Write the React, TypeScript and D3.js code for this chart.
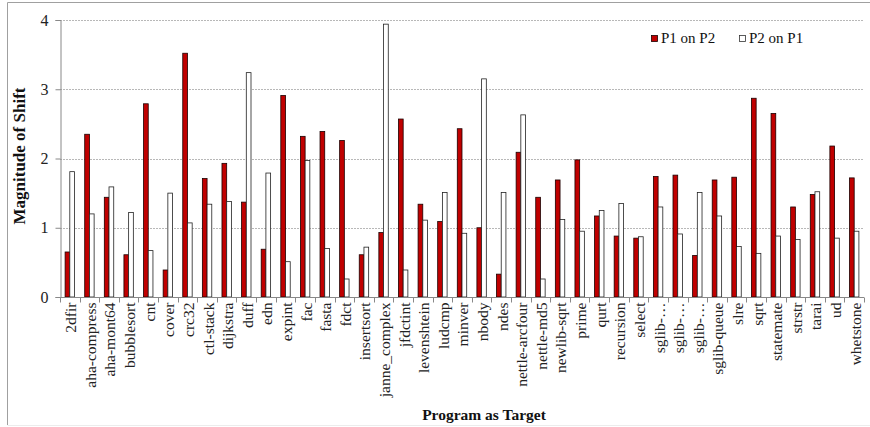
import React, { useRef, useEffect } from 'react';
import * as d3 from 'd3';

const programs = [
  '2dfir', 'aha-compress', 'aha-mont64', 'bubblesort', 'cnt', 'cover', 'crc32', 'ctl-stack',
  'dijkstra', 'duff', 'edn', 'expint', 'fac', 'fasta', 'fdct', 'insertsort', 'janne_complex',
  'jfdctint', 'levenshtein', 'ludcmp', 'minver', 'nbody', 'ndes', 'nettle-arcfour', 'nettle-md5',
  'newlib-sqrt', 'prime', 'qurt', 'recursion', 'select', 'sglib-…', 'sglib-…', 'sglib-…',
  'sglib-queue', 'slre', 'sqrt', 'statemate', 'strstr', 'tarai', 'ud', 'whetstone',
];

const p1OnP2 = [
  0.65, 2.35, 1.44, 0.61, 2.79, 0.39, 3.52, 1.71, 1.93, 1.37, 0.69, 2.91, 2.32, 2.39, 2.26, 0.61,
  0.93, 2.57, 1.34, 1.09, 2.43, 1.0, 0.33, 2.09, 1.44, 1.69, 1.98, 1.17, 0.88, 0.85, 1.74, 1.76,
  0.6, 1.69, 1.73, 2.87, 2.65, 1.3, 1.48, 2.18, 1.72,
];

const p2OnP1 = [
  1.81, 1.2, 1.59, 1.22, 0.67, 1.5, 1.07, 1.34, 1.38, 3.24, 1.79, 0.51, 1.97, 0.7, 0.26, 0.72,
  3.94, 0.39, 1.11, 1.51, 0.92, 3.15, 1.51, 2.63, 0.26, 1.12, 0.95, 1.25, 1.35, 0.87, 1.3, 0.91,
  1.51, 1.17, 0.73, 0.63, 0.88, 0.83, 1.52, 0.85, 0.95,
];

const yTicks = [0, 1, 2, 3, 4];

const seriesNames = ['P1 on P2', 'P2 on P1'];

const FONT = '"Liberation Serif", "Times New Roman", Times, serif';

export default function App() {
  const chartRef = useRef<SVGSVGElement>(null);

  useEffect(() => {
    if (!chartRef.current) return;
    const svg = d3.select(chartRef.current);
    svg.selectAll('*').remove();

    const W = 870;
    const H = 427;
    const margin = { top: 20, right: 6, bottom: 130, left: 60 };

    // outer frame (only top/left visible, bottom faint)
    svg.append('line')
      .attr('x1', 7.5).attr('x2', W).attr('y1', 2.5).attr('y2', 2.5)
      .attr('stroke', '#a0a0a0');
    svg.append('line')
      .attr('x1', 7.5).attr('x2', 7.5).attr('y1', 2.5).attr('y2', H - 2)
      .attr('stroke', '#a0a0a0');
    svg.append('line')
      .attr('x1', 7.5).attr('x2', W).attr('y1', H - 1.5).attr('y2', H - 1.5)
      .attr('stroke', '#ececec');

    const x = d3.scaleBand<number>()
      .domain(programs.map((_, i) => i))
      .range([margin.left, W - margin.right])
      .paddingInner(0)
      .paddingOuter(0);

    const y = d3.scaleLinear()
      .domain([0, 4])
      .range([H - margin.bottom, margin.top]);

    const g = svg.append('g');

    // grid lines
    g.selectAll('.grid')
      .data(yTicks.filter(t => t > 0))
      .enter()
      .append('line')
      .attr('x1', margin.left)
      .attr('x2', W - margin.right)
      .attr('y1', d => Math.round(y(d)) + 0.5)
      .attr('y2', d => Math.round(y(d)) + 0.5)
      .attr('stroke', '#b8b8b8')
      .attr('stroke-dasharray', '2,1');

    // bars
    const bw = x.bandwidth() * 0.24;
    const pairOffset = (x.bandwidth() - 2 * bw) / 2;

    g.selectAll('.bar1')
      .data(p1OnP2)
      .enter()
      .append('rect')
      .attr('x', (_, i) => (x(i) || 0) + pairOffset)
      .attr('y', d => y(d))
      .attr('width', bw)
      .attr('height', d => y(0) - y(d))
      .attr('fill', '#c00000')
      .attr('stroke', '#1a0000')
      .attr('stroke-width', 0.8);

    g.selectAll('.bar2')
      .data(p2OnP1)
      .enter()
      .append('rect')
      .attr('x', (_, i) => (x(i) || 0) + pairOffset + bw)
      .attr('y', d => y(d))
      .attr('width', bw)
      .attr('height', d => y(0) - y(d))
      .attr('fill', 'white')
      .attr('stroke', '#222')
      .attr('stroke-width', 0.8);

    // y axis
    const yAxis = g.append('g')
      .attr('transform', `translate(${margin.left + 0.5},0)`)
      .call(d3.axisLeft(y).tickValues(yTicks).tickSize(5).tickPadding(7).tickFormat(d3.format('d')));
    yAxis.select('.domain').attr('stroke', '#888');
    yAxis.selectAll('.tick line').attr('stroke', '#888');
    yAxis.selectAll('text')
      .attr('font-family', FONT)
      .attr('font-size', 16)
      .attr('fill', '#222');

    // x axis: ticks at category boundaries
    const xBase = Math.round(y(0)) + 0.5;
    g.append('line')
      .attr('x1', margin.left).attr('x2', W - margin.right)
      .attr('y1', xBase).attr('y2', xBase)
      .attr('stroke', '#888');
    g.selectAll('.xtick')
      .data(d3.range(programs.length + 1))
      .enter()
      .append('line')
      .attr('x1', i => Math.round(margin.left + i * x.step()) + 0.5)
      .attr('x2', i => Math.round(margin.left + i * x.step()) + 0.5)
      .attr('y1', xBase)
      .attr('y2', xBase + 5)
      .attr('stroke', '#888');

    g.selectAll('.xlabel')
      .data(programs)
      .enter()
      .append('text')
      .attr('transform', (_, i) => `translate(${(x(i) || 0) + x.bandwidth() / 2 + 1},${xBase + 5}) rotate(-90)`)
      .attr('text-anchor', 'end')
      .attr('dy', '0.35em')
      .attr('font-family', FONT)
      .attr('font-size', 15.5)
      .attr('fill', '#222')
      .text(d => d);

    // axis titles
    svg.append('text')
      .attr('x', 484)
      .attr('y', 420)
      .attr('text-anchor', 'middle')
      .attr('font-family', FONT)
      .attr('font-weight', 'bold')
      .attr('font-size', 15.5)
      .attr('fill', '#111')
      .text('Program as Target');

    svg.append('text')
      .attr('transform', 'translate(25,156) rotate(-90)')
      .attr('text-anchor', 'middle')
      .attr('font-family', FONT)
      .attr('font-weight', 'bold')
      .attr('font-size', 17)
      .attr('fill', '#111')
      .text('Magnitude of Shift');

    // legend
    const legend = svg.append('g');
    const legendX = [651, 739];
    seriesNames.forEach((name, i) => {
      legend.append('rect')
        .attr('x', legendX[i] + 0.5)
        .attr('y', 35.5)
        .attr('width', 6)
        .attr('height', 6)
        .attr('fill', i === 0 ? '#c00000' : 'white')
        .attr('stroke', i === 0 ? '#1a0000' : '#333')
        .attr('stroke-width', 0.8);
      legend.append('text')
        .attr('x', legendX[i] + 10)
        .attr('y', 43)
        .attr('font-family', FONT)
        .attr('font-size', 15)
        .attr('fill', '#111')
        .text(name);
    });
  }, []);

  return (
    <svg
      ref={chartRef}
      width={870}
      height={427}
      style={{ position: 'absolute', left: 0, top: 0, background: 'white' }}
    ></svg>
  );
}
